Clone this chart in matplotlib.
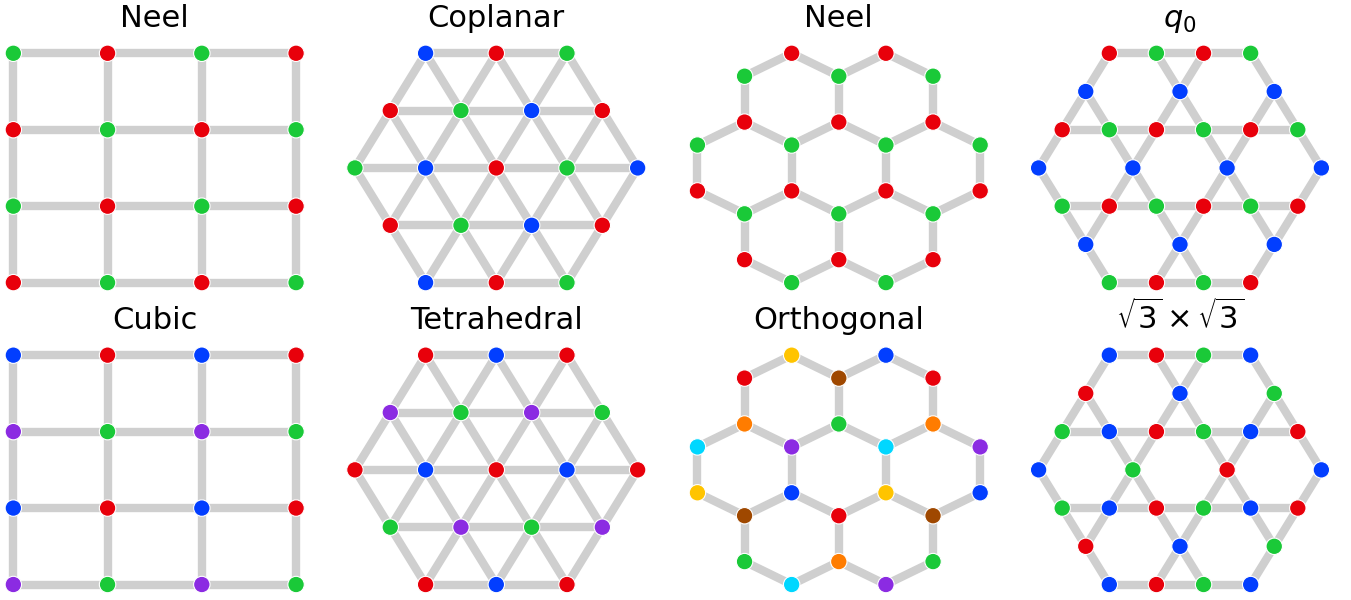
import numpy as np
import matplotlib
matplotlib.use("Agg")
import matplotlib.pyplot as plt
from matplotlib.collections import LineCollection

# Spin colours (seaborn "bright" palette)
palette = {
    "R": "#e8000b", "G": "#1ac938", "B": "#023eff", "P": "#8b2be2",
    "O": "#ff7c00", "N": "#9f4800", "Y": "#ffc400", "C": "#00d7ff",
}

# Site colours, row by row from top to bottom, left to right in each row
square_neel = ["GRGR", "RGRG", "GRGR", "RGRG"]
square_cubic = ["BRBR", "PGPG", "BRBR", "PGPG"]
tri_coplanar = ["BRG", "RGBR", "GBRGB", "RGBR", "BRG"]
tri_tetrahedral = ["RBR", "PGPG", "RBRBR", "GPGP", "RBR"]
honey_neel = ["RR", "GGG", "RRR", "GGGG", "RRRR", "GGG", "RRR", "GG"]
honey_orthogonal = ["YB", "RNR", "OGO", "CPCP", "YBYB", "NRN", "GOG", "CP"]
kagome_q0 = ["RGRG", "BBB", "RGRGRG", "BBBB", "GRGRGR", "BBB", "GRGR"]
kagome_sqrt3 = ["BRGB", "RBG", "GBRGBR", "BGRB", "GBRGBR", "RBG", "BRGB"]

titles = ["Neel", "Coplanar", "Neel", r"$q_0$",
          "Cubic", "Tetrahedral", "Orthogonal", r"$\sqrt{3}\times\sqrt{3}$"]

S3 = np.sqrt(3.0)


def sort_sites(pts):
    pts = np.unique(np.round(np.asarray(pts), 6), axis=0)
    order = np.lexsort((pts[:, 0], -pts[:, 1]))
    return pts[order]


def square_lattice(n=4):
    return sort_sites([(i, j) for i in range(n) for j in range(n)])


def triangular_hexagon(r):
    pts = []
    for i in range(-r, r + 1):
        for j in range(-r, r + 1):
            if abs(i + j) <= r:
                pts.append((i + 0.5 * j, 0.5 * S3 * j))
    return sort_sites(pts)


def honeycomb_coronene():
    centers = [(0.0, 0.0)] + [(S3 * np.cos(np.radians(a)), S3 * np.sin(np.radians(a)))
                              for a in range(0, 360, 60)]
    pts = []
    for cx, cy in centers:
        for a in range(90, 450, 60):
            pts.append((cx + np.cos(np.radians(a)), cy + np.sin(np.radians(a))))
    return sort_sites(pts)


def kagome_hexagon(r=3):
    pts = []
    for i in range(-r, r + 1):
        for j in range(-r, r + 1):
            if abs(i + j) <= r and not (i % 2 == 0 and j % 2 == 0):
                pts.append((i + 0.5 * j, 0.5 * S3 * j))
    return sort_sites(pts)


def bonds(pts):
    segs = []
    for a in range(len(pts)):
        for b in range(a + 1, len(pts)):
            if abs(np.hypot(*(pts[a] - pts[b])) - 1.0) < 1e-3:
                segs.append([pts[a], pts[b]])
    return segs


panels = [
    (square_lattice(), square_neel),
    (triangular_hexagon(2), tri_coplanar),
    (honeycomb_coronene(), honey_neel),
    (kagome_hexagon(3), kagome_q0),
    (square_lattice(), square_cubic),
    (triangular_hexagon(2), tri_tetrahedral),
    (honeycomb_coronene(), honey_orthogonal),
    (kagome_hexagon(3), kagome_sqrt3),
]

W, H = 1351, 600
fig = plt.figure(figsize=(W / 100, H / 100), dpi=100)

ax_w, ax_h = 311, 252.3
col_left = [-0.8, 340.8, 683.3, 1024.5]
row_top = [41.8, 343.7]

for k, ((pts, rows), title) in enumerate(zip(panels, titles)):
    r, c = divmod(k, 4)
    ax = fig.add_axes([col_left[c] / W, 1 - (row_top[r] + ax_h) / H, ax_w / W, ax_h / H])
    colours = [palette[ch] for row in rows for ch in row]
    lc = LineCollection(bonds(pts), colors="#cfcfcf", linewidths=6, zorder=1)
    ax.add_collection(lc)
    ax.scatter(pts[:, 0], pts[:, 1], s=140, c=colours, edgecolors="white",
               linewidths=0.8, zorder=2)
    ax.margins(0.05)
    ax.set_axis_off()
    ax.set_title(title, fontsize=22, pad=10.6)

fig.savefig("out.png", dpi=100)
